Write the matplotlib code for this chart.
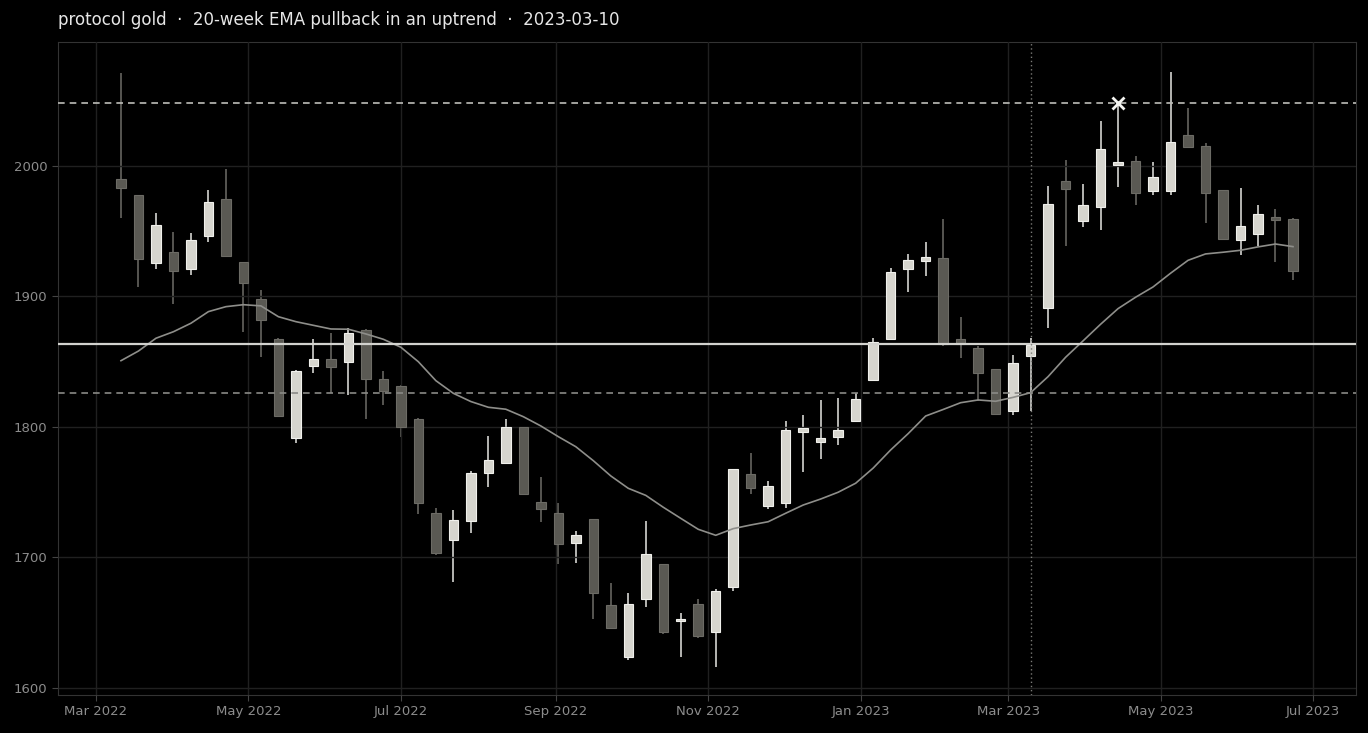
import matplotlib
matplotlib.use("Agg")
import matplotlib.pyplot as plt
import matplotlib.dates as mdates
import pandas as pd
import numpy as np

# weekly candles (Fridays)
dates = pd.date_range("2022-03-11", periods=68, freq="7D")

opens = [1989.8, 1977.5, 1925.4, 1933.9, 1921.3, 1946.6, 1974.5, 1926.2, 1897.9, 1867.7,
         1791.3, 1846.5, 1851.9, 1849.6, 1874.6, 1836.6, 1831.6, 1806.4, 1733.9, 1713.2,
         1727.7, 1764.5, 1772.2, 1799.8, 1742.3, 1733.9, 1710.9, 1729.3, 1663.4, 1624.0,
         1668.0, 1694.8, 1651.1, 1664.1, 1642.7, 1677.6, 1763.8, 1739.7, 1742.0, 1796.4,
         1788.3, 1792.1, 1804.4, 1836.0, 1867.2, 1920.8, 1927.0, 1929.3, 1867.2, 1860.3,
         1844.2, 1812.3, 1854.4, 1891.0, 1988.7, 1957.6, 1968.4, 2001.0, 2003.6, 1981.1,
         1980.6, 2023.5, 2015.1, 1981.4, 1943.1, 1947.7, 1960.7, 1959.6]
highs = [2071.5, 1978.0, 1964.2, 1949.7, 1948.4, 1981.4, 1997.5, 1926.5, 1905.0, 1868.0,
         1843.5, 1867.2, 1872.3, 1876.1, 1875.0, 1843.1, 1832.0, 1806.8, 1737.7, 1736.4,
         1766.5, 1792.9, 1805.9, 1800.2, 1761.9, 1742.0, 1720.5, 1729.6, 1680.7, 1673.0,
         1728.2, 1695.2, 1657.7, 1668.0, 1675.6, 1768.0, 1779.8, 1758.4, 1804.4, 1809.0,
         1820.5, 1822.0, 1826.3, 1868.4, 1921.6, 1932.3, 1941.5, 1959.2, 1884.5, 1862.0,
         1844.6, 1855.2, 1868.0, 1984.9, 2004.6, 1986.4, 2034.3, 2048.0, 2007.9, 2002.8,
         2071.8, 2044.2, 2017.9, 1981.8, 1983.1, 1969.9, 1967.3, 1960.0]
lows = [1959.9, 1907.5, 1920.8, 1894.0, 1916.2, 1942.0, 1930.5, 1873.0, 1853.4, 1808.0,
        1787.5, 1841.1, 1826.3, 1824.5, 1805.9, 1816.6, 1792.1, 1733.1, 1701.7, 1681.0,
        1718.5, 1753.8, 1771.8, 1748.0, 1727.0, 1694.8, 1695.6, 1652.6, 1645.8, 1621.5,
        1662.3, 1641.5, 1623.5, 1638.1, 1615.9, 1674.1, 1748.4, 1736.9, 1738.2, 1765.3,
        1775.3, 1786.2, 1803.6, 1835.5, 1866.8, 1903.2, 1915.5, 1862.0, 1852.6, 1820.2,
        1809.3, 1809.2, 1812.5, 1875.6, 1938.7, 1953.3, 1950.7, 1984.1, 1969.9, 1977.5,
        1977.5, 2014.0, 1956.6, 1943.5, 1931.6, 1938.7, 1926.2, 1912.6]
closes = [1982.9, 1928.5, 1954.6, 1919.3, 1943.1, 1972.2, 1931.3, 1910.1, 1881.8, 1808.4,
          1843.1, 1852.3, 1845.7, 1872.3, 1836.8, 1827.6, 1800.0, 1741.5, 1703.2, 1728.5,
          1764.5, 1774.5, 1799.8, 1748.4, 1736.9, 1710.6, 1717.5, 1672.6, 1646.2, 1664.1,
          1702.5, 1642.7, 1652.9, 1640.1, 1674.3, 1767.6, 1753.0, 1754.6, 1797.5, 1799.5,
          1791.3, 1797.5, 1821.2, 1865.4, 1919.0, 1927.7, 1930.0, 1863.4, 1863.4, 1841.1,
          1809.7, 1848.8, 1862.8, 1970.7, 1982.1, 1969.9, 2012.8, 2002.8, 1979.5, 1991.3,
          2018.2, 2014.8, 1979.1, 1944.3, 1953.8, 1963.0, 1958.4, 1919.3]
ema20 = [1850.8, 1858.2, 1868.0, 1873.0, 1879.5, 1888.4, 1892.2, 1893.7, 1892.8, 1884.5,
         1880.7, 1877.9, 1875.1, 1874.9, 1871.3, 1867.2, 1861.1, 1850.0, 1835.5, 1825.8,
         1819.5, 1815.1, 1813.6, 1807.9, 1800.8, 1792.6, 1784.9, 1774.2, 1762.5, 1753.0,
         1747.6, 1738.5, 1730.0, 1721.6, 1717.0, 1722.1, 1724.9, 1727.4, 1733.9, 1740.2,
         1744.8, 1750.0, 1756.9, 1768.5, 1782.4, 1794.9, 1808.4, 1813.4, 1818.6, 1820.7,
         1819.7, 1822.7, 1826.3, 1838.6, 1853.4, 1866.0, 1878.7, 1890.7, 1899.4, 1907.3,
         1917.8, 1927.7, 1932.6, 1933.9, 1935.4, 1938.0, 1940.2, 1938.2]

signal_date = pd.Timestamp("2023-03-10")
entry = 1863.6
stop = 1826.0
target = 2048.0
hit_date = pd.Timestamp("2023-04-14")

bg = "#000000"
up_fill, up_edge, up_wick = "#d6d5ce", "#f0f0ec", "#e6e6e2"
dn_fill, dn_edge, dn_wick = "#5a5953", "#6c6b65", "#6e6d68"

fig = plt.figure(figsize=(13.68, 7.33), dpi=100, facecolor=bg)
ax = fig.add_axes([0.0424, 0.0518, 0.9488, 0.8909])
ax.set_facecolor(bg)

x = mdates.date2num(dates)
w = 3.8
for xi, o, h, l, c in zip(x, opens, highs, lows, closes):
    up = c >= o
    ax.vlines(xi, l, h, color=up_wick if up else dn_wick, lw=1.1, zorder=2)
    ax.bar(xi, abs(c - o) if abs(c - o) > 0.6 else 0.6, bottom=min(o, c), width=w,
           color=up_fill if up else dn_fill, edgecolor=up_edge if up else dn_edge,
           lw=0.8, zorder=3)

ax.plot(x, ema20, color="#8e8e8a", lw=1.2, zorder=4)

ax.axhline(target, color="#bdbdb8", lw=1.2, ls=(0, (4, 3)), zorder=5)
ax.axhline(entry, color="#d2d2ce", lw=1.6, zorder=5)
ax.axhline(stop, color="#8a8a86", lw=1.2, ls=(0, (4, 3)), zorder=5)
ax.axvline(mdates.date2num(signal_date), color="#7a7a76", lw=1.0, ls=(0, (1, 2)), zorder=5)
ax.plot(mdates.date2num(hit_date), target, marker="x", ms=8, mew=2, color="#f4f4f0", zorder=6)

ax.set_xlim(x[0] - 25.2, x[-1] + 25.2)
ax.set_ylim(1594.6, 2095)
ax.set_yticks([1600, 1700, 1800, 1900, 2000])
ax.xaxis.set_major_locator(mdates.MonthLocator(bymonth=[1, 3, 5, 7, 9, 11]))
ax.xaxis.set_major_formatter(mdates.DateFormatter("%b %Y"))

ax.set_axisbelow(False)
ax.grid(True, color="#202020", lw=1.0, zorder=4.5)
for s in ax.spines.values():
    s.set_color("#333333")
ax.tick_params(colors="#444444", labelcolor="#8c8c8c", labelsize=9.5, length=4)

fig.text(0.0424, 0.973, "protocol gold  \u00b7  20-week EMA pullback in an uptrend  \u00b7  2023-03-10",
         color="#e6e6e6", fontsize=12, ha="left", va="center")

fig.savefig("out.png", dpi=100, facecolor=bg)
